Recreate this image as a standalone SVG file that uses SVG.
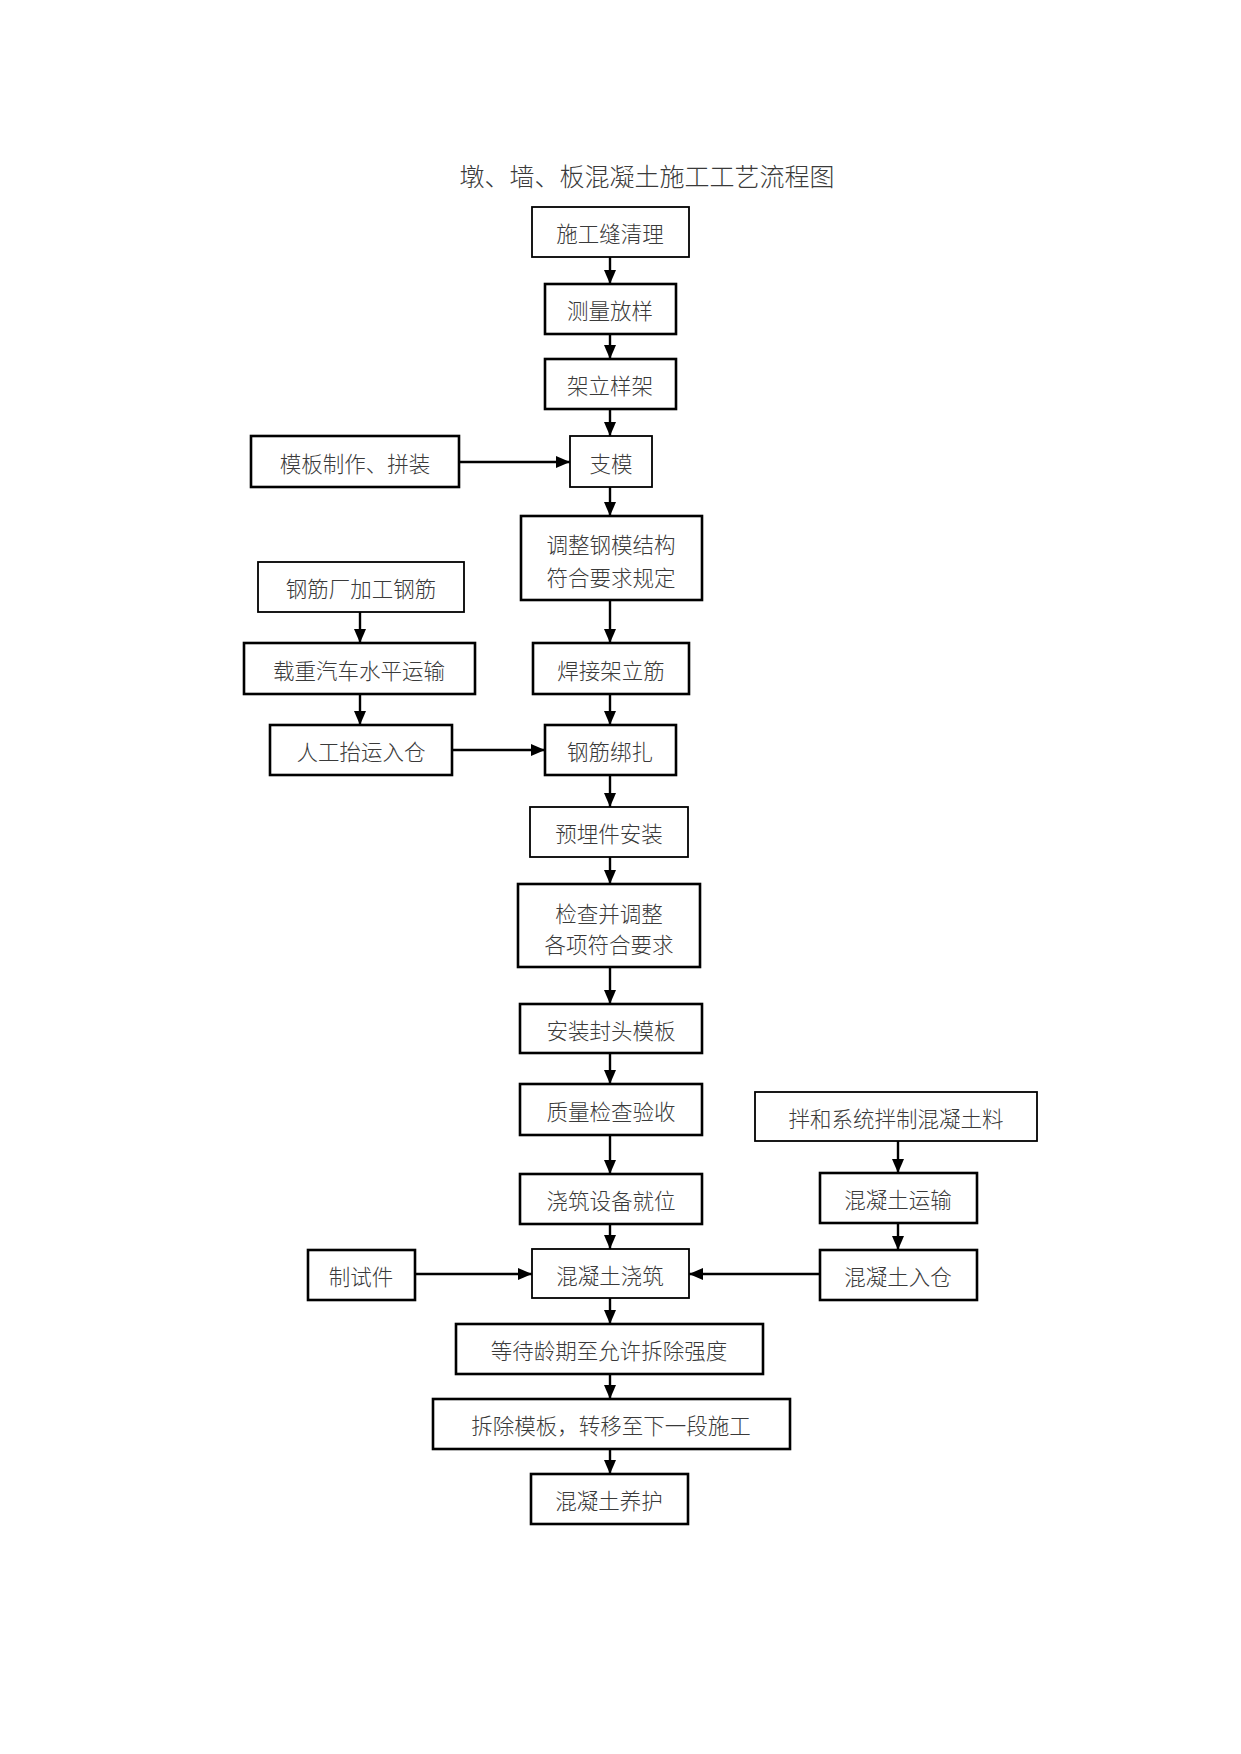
<svg xmlns="http://www.w3.org/2000/svg" width="1241" height="1754" viewBox="0 0 1241 1754">
<style>
.b{fill:#fff;stroke:#000;stroke-width:2.6}
.t{fill:#fff;stroke:#000;stroke-width:1.8}
text{font-family:"Noto Sans CJK SC","Noto Sans CJK JP",sans-serif;font-size:21.5px;font-weight:300;fill:#3a3a3a;text-anchor:middle;dominant-baseline:central}
.title{font-size:25px}
.c{fill:none;stroke:#000;stroke-width:2.4}
</style>
<defs>
<marker id="ah" markerUnits="userSpaceOnUse" markerWidth="14" markerHeight="14" viewBox="0 0 14 14" refX="14" refY="7" orient="auto">
<path d="M0,1 L14,7 L0,13 Z" fill="#000"/>
</marker>
</defs>
<rect width="1241" height="1754" fill="#fff"/>
<text class="title" x="647" y="175">墩、墙、板混凝土施工工艺流程图</text>

<g id="connectors">
<path class="c" d="M610,257 V284" marker-end="url(#ah)"/>
<path class="c" d="M610,334 V359" marker-end="url(#ah)"/>
<path class="c" d="M610,409 V436" marker-end="url(#ah)"/>
<path class="c" d="M610,487 V516" marker-end="url(#ah)"/>
<path class="c" d="M610,600 V643" marker-end="url(#ah)"/>
<path class="c" d="M610,694 V725" marker-end="url(#ah)"/>
<path class="c" d="M610,775 V807" marker-end="url(#ah)"/>
<path class="c" d="M610,857 V884" marker-end="url(#ah)"/>
<path class="c" d="M610,967 V1004" marker-end="url(#ah)"/>
<path class="c" d="M610,1053 V1084" marker-end="url(#ah)"/>
<path class="c" d="M610,1135 V1174" marker-end="url(#ah)"/>
<path class="c" d="M610,1224 V1249" marker-end="url(#ah)"/>
<path class="c" d="M610,1298 V1324" marker-end="url(#ah)"/>
<path class="c" d="M610,1374 V1399" marker-end="url(#ah)"/>
<path class="c" d="M610,1449 V1474" marker-end="url(#ah)"/>
<path class="c" d="M360,612 V643" marker-end="url(#ah)"/>
<path class="c" d="M360,694 V725" marker-end="url(#ah)"/>
<path class="c" d="M459,462 H570" marker-end="url(#ah)"/>
<path class="c" d="M452,750 H545" marker-end="url(#ah)"/>
<path class="c" d="M415,1274 H532" marker-end="url(#ah)"/>
<path class="c" d="M898,1141 V1173" marker-end="url(#ah)"/>
<path class="c" d="M898,1223 V1250" marker-end="url(#ah)"/>
<path class="c" d="M820,1274 H689" marker-end="url(#ah)"/>
</g>

<g id="n1"><rect class="t" x="532" y="207" width="157" height="50"/><text x="610" y="232">施工缝清理</text></g>
<g id="n2"><rect class="b" x="545" y="284" width="131" height="50"/><text x="610" y="309">测量放样</text></g>
<g id="n3"><rect class="b" x="545" y="359" width="131" height="50"/><text x="610" y="384">架立样架</text></g>
<g id="n4"><rect class="b" x="251" y="436" width="208" height="51"/><text x="355" y="462">模板制作、拼装</text></g>
<g id="n5"><rect class="t" x="570" y="436" width="82" height="51"/><text x="611" y="462">支模</text></g>
<g id="n6"><rect class="b" x="521" y="516" width="181" height="84"/><text x="611" y="543">调整钢模结构</text><text x="611" y="576">符合要求规定</text></g>
<g id="n7"><rect class="t" x="258" y="562" width="206" height="50"/><text x="361" y="587">钢筋厂加工钢筋</text></g>
<g id="n8"><rect class="b" x="244" y="643" width="231" height="51"/><text x="359" y="669">载重汽车水平运输</text></g>
<g id="n9"><rect class="b" x="533" y="643" width="156" height="51"/><text x="611" y="669">焊接架立筋</text></g>
<g id="n10"><rect class="b" x="270" y="725" width="182" height="50"/><text x="361" y="750">人工抬运入仓</text></g>
<g id="n11"><rect class="b" x="545" y="725" width="131" height="50"/><text x="610" y="750">钢筋绑扎</text></g>
<g id="n12"><rect class="t" x="530" y="807" width="158" height="50"/><text x="609" y="832">预埋件安装</text></g>
<g id="n13"><rect class="b" x="518" y="884" width="182" height="83"/><text x="609" y="912">检查并调整</text><text x="609" y="943">各项符合要求</text></g>
<g id="n14"><rect class="b" x="520" y="1004" width="182" height="49"/><text x="611" y="1029">安装封头模板</text></g>
<g id="n15"><rect class="b" x="520" y="1084" width="182" height="51"/><text x="611" y="1110">质量检查验收</text></g>
<g id="n16"><rect class="t" x="755" y="1092" width="282" height="49"/><text x="896" y="1117">拌和系统拌制混凝土料</text></g>
<g id="n17"><rect class="b" x="520" y="1174" width="182" height="50"/><text x="611" y="1199">浇筑设备就位</text></g>
<g id="n18"><rect class="b" x="820" y="1173" width="157" height="50"/><text x="898" y="1198">混凝土运输</text></g>
<g id="n19"><rect class="b" x="308" y="1250" width="107" height="50"/><text x="361" y="1275">制试件</text></g>
<g id="n20"><rect class="t" x="532" y="1249" width="157" height="49"/><text x="610" y="1274">混凝土浇筑</text></g>
<g id="n21"><rect class="b" x="820" y="1250" width="157" height="50"/><text x="898" y="1275">混凝土入仓</text></g>
<g id="n22"><rect class="b" x="456" y="1324" width="307" height="50"/><text x="609" y="1349">等待龄期至允许拆除强度</text></g>
<g id="n23"><rect class="b" x="433" y="1399" width="357" height="50"/><text x="611" y="1424">拆除模板，转移至下一段施工</text></g>
<g id="n24"><rect class="b" x="531" y="1474" width="157" height="50"/><text x="609" y="1499">混凝土养护</text></g>
</svg>
